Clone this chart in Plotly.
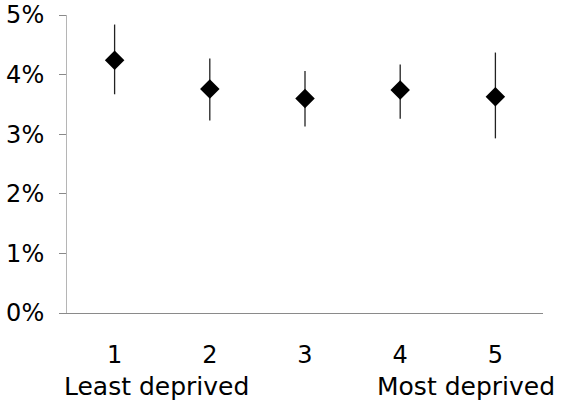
import plotly.graph_objects as go

categories = [1, 2, 3, 4, 5]
cat_labels = ["1", "2", "3", "4", "5"]
values = [4.24, 3.76, 3.60, 3.74, 3.63]
upper = [4.84, 4.27, 4.06, 4.17, 4.37]
lower = [3.67, 3.23, 3.13, 3.26, 2.93]
y_ticks = [0, 1, 2, 3, 4, 5]
y_tick_labels = ["0%", "1%", "2%", "3%", "4%", "5%"]
end_labels = ["Least deprived", "Most deprived"]

err_plus = [u - v for u, v in zip(upper, values)]
err_minus = [v - l for v, l in zip(values, lower)]

FONT = "DejaVu Sans"
FS = 24

fig = go.Figure()
fig.add_trace(go.Scatter(
    x=categories, y=values, mode="markers",
    marker=dict(symbol="diamond", size=15, color="black"),
    error_y=dict(type="data", symmetric=False, array=err_plus, arrayminus=err_minus,
                 width=0, thickness=1.3, color="#222222"),
    showlegend=False,
))

fig.update_layout(
    width=561, height=400,
    margin=dict(l=67, r=18, t=15, b=87, pad=0),
    paper_bgcolor="white", plot_bgcolor="white",
    font=dict(family=FONT, size=FS, color="black"),
    xaxis=dict(range=[0.5, 5.5], tickvals=categories, ticktext=cat_labels,
               showgrid=False, zeroline=False, showline=True, linecolor="#8a8a8a",
               linewidth=1, ticks="", ticklabelstandoff=20, automargin=False),
    yaxis=dict(range=[0, 5], tickvals=y_ticks, ticktext=y_tick_labels,
               showgrid=False, zeroline=False, showline=True, linecolor="#b5b5b5",
               linewidth=1, ticks="outside", ticklen=7, tickcolor="#8a8a8a",
               ticklabelstandoff=10, automargin=False),
    annotations=[
        dict(text=end_labels[0], x=0.187, xref="paper", xanchor="center",
             y=-0.246, yref="paper", yanchor="middle", showarrow=False,
             font=dict(family=FONT, size=25, color="black")),
        dict(text=end_labels[1], x=0.838, xref="paper", xanchor="center",
             y=-0.246, yref="paper", yanchor="middle", showarrow=False,
             font=dict(family=FONT, size=25, color="black")),
    ],
)

fig.write_html(
    "out.html",
    config={"displayModeBar": False},
    post_script="document.body.style.margin='0px';document.body.style.overflow='hidden';",
)
